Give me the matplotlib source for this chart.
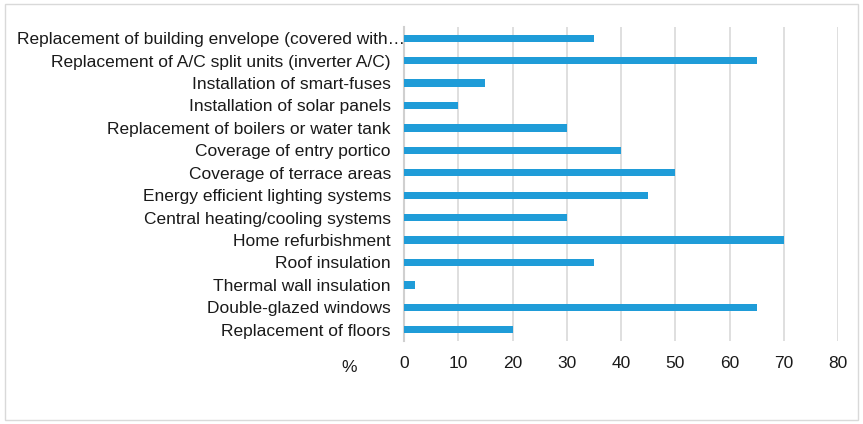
import matplotlib.pyplot as plt
from matplotlib.patches import Rectangle
from matplotlib.transforms import ScaledTranslation

plt.rcParams['font.family'] = ['Liberation Sans', 'DejaVu Sans']

labels = ['Replacement of building envelope (covered with\u2026',
          'Replacement of A/C split units (inverter A/C)',
          'Installation of smart-fuses',
          'Installation of solar panels',
          'Replacement of boilers or water tank',
          'Coverage of entry portico',
          'Coverage of terrace areas',
          'Energy efficient lighting systems',
          'Central heating/cooling systems',
          'Home refurbishment',
          'Roof insulation',
          'Thermal wall insulation',
          'Double-glazed windows',
          'Replacement of floors']
values = [35, 65, 15, 10, 30, 40, 50, 45, 30, 70, 35, 2, 65, 20]
xticks = [0, 10, 20, 30, 40, 50, 60, 70, 80]

fig = plt.figure(figsize=(8.63, 4.24), dpi=100)
ax = fig.add_axes([404/863, 1 - 341/424, 434/863, 314/424])

pos = list(range(len(labels)))[::-1]
ax.barh(pos, values, height=0.32, color='#1f9cd8', zorder=3)

ax.set_xlim(0, 80)
ax.set_ylim(-0.5, len(labels) - 0.5)
ax.set_xticks(xticks)
ax.set_yticks(pos)
ax.set_yticklabels(labels)
ax.tick_params(axis='both', length=0, labelsize=12.5, colors='#1a1a1a')
ax.tick_params(axis='y', pad=9.5)
ax.tick_params(axis='x', pad=11)
ax.grid(axis='x', color='#d9d9d9', linewidth=1.2, zorder=0)
for s in ['top', 'right', 'bottom']:
    ax.spines[s].set_visible(False)
ax.spines['left'].set_color('#d0d0d0')
ax.spines['left'].set_linewidth(1.5)

# the truncated top label sits further right, over the axis line
top = ax.get_yticklabels()[0]
top.set_transform(top.get_transform() + ScaledTranslation(14/100, 0, fig.dpi_scale_trans))

fig.text(349/863, 1 - 367/424, '%', fontsize=12.5, color='#1a1a1a', ha='center', va='center')

fig.patches.append(Rectangle((5/863, 4/424), 853/863, 416/424, transform=fig.transFigure,
                             fill=False, edgecolor='#d9d9d9', linewidth=1))

fig.savefig('out.png', dpi=100)
